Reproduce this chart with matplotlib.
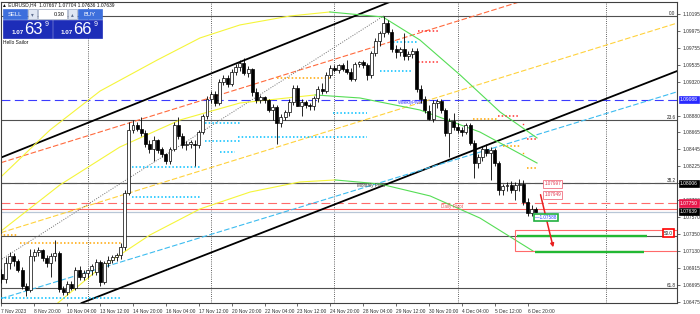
import numpy as np
import matplotlib.pyplot as plt
import matplotlib.patches as mpatches
from matplotlib.transforms import blended_transform_factory

plt.rcParams['font.family'] = ['Liberation Sans', 'DejaVu Sans']

# ---------------------------------------------------------------------------
# EURUSD H4 candles (bar index 0 = 7 Nov 2023)
# ---------------------------------------------------------------------------
opens = [1.0683, 1.0677, 1.0697, 1.0706, 1.0700, 1.0688, 1.0668, 1.0662, 1.0707, 1.0712,
         1.0714, 1.0704, 1.0697, 1.0706, 1.0711, 1.0664, 1.0660, 1.0670, 1.0665, 1.0688,
         1.0680, 1.0685, 1.0688, 1.0686, 1.0699, 1.0673, 1.0697, 1.0702, 1.0705, 1.0708,
         1.0718, 1.0788, 1.0870, 1.0876, 1.0871, 1.0866, 1.0851, 1.0845, 1.0856, 1.0845,
         1.0838, 1.0830, 1.0845, 1.0876, 1.0862, 1.0850, 1.0852, 1.0852, 1.0850, 1.0867,
         1.0887, 1.0910, 1.0916, 1.0905, 1.0932, 1.0937, 1.0929, 1.0945, 1.0951, 1.0956,
         1.0943, 1.0948, 1.0918, 1.0908, 1.0912, 1.0908, 1.0896, 1.0899, 1.0879, 1.0886,
         1.0893, 1.0906, 1.0924, 1.0900, 1.0906, 1.0902, 1.0900, 1.0911, 1.0923, 1.0920,
         1.0941, 1.0950, 1.0947, 1.0953, 1.0949, 1.0945, 1.0936, 1.0955, 1.0957, 1.0953,
         1.0940, 1.0969, 1.0985, 1.0995, 1.1008, 1.0996, 1.0974, 1.0970, 1.0974, 1.0965,
         1.0968, 1.0972, 1.0922, 1.0910, 1.0894, 1.0884, 1.0905, 1.0907, 1.0895, 1.0866,
         1.0881, 1.0874, 1.0870, 1.0867, 1.0876, 1.0853, 1.0827, 1.0834, 1.0845, 1.0840,
         1.0844, 1.0827, 1.0792, 1.0797, 1.0799, 1.0792, 1.0798, 1.0800, 1.0776, 1.0762,
         1.07667]
highs = [1.0690, 1.0705, 1.0712, 1.0710, 1.0703, 1.0692, 1.0672, 1.0715, 1.0716, 1.0718,
         1.0716, 1.0708, 1.0710, 1.0727, 1.0713, 1.0668, 1.0674, 1.0674, 1.0692, 1.0693,
         1.0688, 1.0690, 1.0696, 1.0703, 1.0702, 1.0700, 1.0706, 1.0708, 1.0711, 1.0724,
         1.0792, 1.0880, 1.0882, 1.0880, 1.0886, 1.0870, 1.0856, 1.0862, 1.0858, 1.0848,
         1.0840, 1.0848, 1.0880, 1.0886, 1.0865, 1.0855, 1.0857, 1.0856, 1.0870, 1.0890,
         1.0913, 1.0920, 1.0920, 1.0935, 1.0940, 1.0940, 1.0948, 1.0955, 1.0960, 1.0962,
         1.0952, 1.0950, 1.0924, 1.0915, 1.0914, 1.0910, 1.0903, 1.0902, 1.0890, 1.0896,
         1.0910, 1.0928, 1.0928, 1.0910, 1.0908, 1.0905, 1.0914, 1.0926, 1.0930, 1.0944,
         1.0953, 1.0954, 1.0955, 1.0956, 1.0960, 1.0950, 1.0958, 1.0959, 1.0960, 1.0956,
         1.0972, 1.0988, 1.0998, 1.1017, 1.1012, 1.1000, 1.0980, 1.0977, 1.0995, 1.0972,
         1.0975, 1.0976, 1.0928, 1.0914, 1.0902, 1.0908, 1.0910, 1.0910, 1.0898, 1.0885,
         1.0892, 1.0878, 1.0874, 1.0878, 1.0879, 1.0856, 1.0838, 1.0849, 1.0852, 1.0847,
         1.0846, 1.0830, 1.0800, 1.0802, 1.0804, 1.0802, 1.0806, 1.0805, 1.0782, 1.0772,
         1.07704]
lows = [1.0672, 1.0672, 1.0690, 1.0694, 1.0686, 1.0664, 1.0655, 1.0660, 1.0700, 1.0706,
        1.0700, 1.0692, 1.0680, 1.0700, 1.0660, 1.0656, 1.0656, 1.0662, 1.0662, 1.0676,
        1.0675, 1.0678, 1.0682, 1.0682, 1.0668, 1.0670, 1.0692, 1.0697, 1.0700, 1.0703,
        1.0714, 1.0785, 1.0866, 1.0868, 1.0862, 1.0848, 1.0840, 1.0830, 1.0840, 1.0834,
        1.0826, 1.0826, 1.0842, 1.0858, 1.0846, 1.0844, 1.0846, 1.0823, 1.0846, 1.0864,
        1.0884, 1.0905, 1.0900, 1.0902, 1.0928, 1.0925, 1.0926, 1.0940, 1.0946, 1.0940,
        1.0938, 1.0914, 1.0905, 1.0904, 1.0904, 1.0893, 1.0882, 1.0852, 1.0873, 1.0882,
        1.0888, 1.0902, 1.0900, 1.0887, 1.0898, 1.0896, 1.0896, 1.0906, 1.0916, 1.0917,
        1.0937, 1.0944, 1.0943, 1.0946, 1.0942, 1.0933, 1.0933, 1.0951, 1.0950, 1.0934,
        1.0937, 1.0965, 1.0978, 1.0990, 1.0993, 1.0970, 1.0962, 1.0965, 1.0960, 1.0960,
        1.0962, 1.0918, 1.0905, 1.0892, 1.0882, 1.0880, 1.0898, 1.0892, 1.0862, 1.0835,
        1.0870, 1.0866, 1.0862, 1.0864, 1.0850, 1.0808, 1.0820, 1.0830, 1.0836, 1.0805,
        1.0823, 1.0786, 1.0786, 1.0790, 1.0788, 1.0779, 1.0790, 1.0772, 1.0758, 1.0758,
        1.07636]
closes = [1.0677, 1.0697, 1.0706, 1.0700, 1.0688, 1.0668, 1.0662, 1.0707, 1.0712, 1.0714,
          1.0704, 1.0697, 1.0706, 1.0711, 1.0664, 1.0660, 1.0670, 1.0665, 1.0688, 1.0680,
          1.0685, 1.0688, 1.0693, 1.0699, 1.0673, 1.0697, 1.0702, 1.0705, 1.0708, 1.0718,
          1.0788, 1.0870, 1.0876, 1.0871, 1.0866, 1.0851, 1.0845, 1.0856, 1.0843, 1.0838,
          1.0830, 1.0845, 1.0876, 1.0862, 1.0850, 1.0852, 1.0854, 1.0850, 1.0867, 1.0887,
          1.0910, 1.0916, 1.0905, 1.0932, 1.0937, 1.0929, 1.0945, 1.0951, 1.0956, 1.0943,
          1.0948, 1.0918, 1.0908, 1.0912, 1.0908, 1.0896, 1.0899, 1.0879, 1.0886, 1.0893,
          1.0906, 1.0924, 1.0901, 1.0906, 1.0902, 1.0900, 1.0911, 1.0923, 1.0920, 1.0941,
          1.0950, 1.0947, 1.0953, 1.0949, 1.0945, 1.0936, 1.0955, 1.0957, 1.0953, 1.0940,
          1.0969, 1.0985, 1.0995, 1.1008, 1.0996, 1.0974, 1.0970, 1.0974, 1.0965, 1.0968,
          1.0972, 1.0922, 1.0910, 1.0896, 1.0884, 1.0905, 1.0907, 1.0895, 1.0866, 1.0881,
          1.0874, 1.0870, 1.0867, 1.0876, 1.0853, 1.0827, 1.0834, 1.0845, 1.0840, 1.0844,
          1.0827, 1.0792, 1.0797, 1.0799, 1.0792, 1.0798, 1.0800, 1.0776, 1.0762, 1.0767,
          1.07639]

time_tick_bars = list(range(0, 129, 8))
time_tick_labels = ['7 Nov 2023', '8 Nov 20:00', '10 Nov 04:00', '13 Nov 12:00', '14 Nov 20:00',
                    '16 Nov 04:00', '17 Nov 12:00', '20 Nov 20:00', '22 Nov 04:00', '23 Nov 12:00',
                    '24 Nov 20:00', '28 Nov 04:00', '29 Nov 12:00', '30 Nov 20:00', '4 Dec 04:00',
                    '5 Dec 12:00', '6 Dec 20:00']
price_ticks = [1.10195, 1.09975, 1.09755, 1.09535, 1.09320, 1.08880, 1.08665, 1.08445, 1.08225,
               1.08005, 1.07790, 1.07570, 1.07350, 1.07130, 1.06915, 1.06695, 1.06475]
week_separators = [21, 51, 81, 111, 147]

# fibonacci retracement levels (price, label)
fib_prices = [1.10169, 1.08824, 1.08010, 1.07325, 1.06652]
fib_labels = ['0.0', '23.6', '38.2', '50.0', '61.8']

weekly_pivot = 1.09088
monthly_pivot = 1.08006
daily_pivot = 1.07750
bid = 1.07639
ask = 1.07669

# trend objects: two anchor points (bar, price)
channel_upper = [(0, 1.08341), (90, 1.10255)]
channel_lower = [(27.6, 1.06626), (146.3, 1.09083)]
regr_top = [(-0.4, 1.08268), (101.8, 1.09952)]
regr_mid = [(-0.4, 1.07363), (145.6, 1.09768)]
regr_low = [(-0.4, 1.06510), (164.4, 1.09189)]
fib_base = [(-0.4, 1.07010), (93, 1.10170)]

# curved indicator lines (bar, price), rising part and falling part
arc_top_up = [(-0.4, 1.08075), (11.8, 1.08695), (24.0, 1.09199), (37.9, 1.09600),
              (48.3, 1.09885), (58.0, 1.10053), (70.2, 1.10169), (79.9, 1.10221)]
arc_top_dn = [(79.9, 1.10221), (92.8, 1.10156), (101.8, 1.09859), (111.6, 1.09406),
              (121.3, 1.08928), (130.3, 1.08592)]
arc_mid_up = [(-0.4, 1.07376), (14.2, 1.07984), (28.8, 1.08475), (43.4, 1.08824),
              (58.0, 1.09044), (76.3, 1.09148)]
arc_mid_dn = [(76.3, 1.09148), (87.2, 1.09109), (101.8, 1.08954), (116.4, 1.08669),
              (130.3, 1.08268)]
arc_low_up = [(13.7, 1.06458), (24.0, 1.06911), (36.1, 1.07337), (48.3, 1.07674),
              (60.5, 1.07893), (72.6, 1.08023), (81.2, 1.08049)]
arc_low_dn = [(81.2, 1.08049), (92.1, 1.07997), (104.3, 1.07842), (116.4, 1.07557),
              (129.3, 1.07131)]

# dotted support / resistance markers: (first bar, last bar, price, colour)
dot_levels = [
    (-0.4, 4.0, 1.07338, '#ffa500'), (4.5, 29.3, 1.07234, '#ffa500'),
    (0, 29.3, 1.06523, '#00bfff'), (31.8, 48.3, 1.08217, '#00bfff'),
    (31.8, 48.3, 1.07829, '#00bfff'), (49.5, 58.0, 1.08786, '#00bfff'),
    (49.5, 58.0, 1.08553, '#00bfff'), (53.2, 56.8, 1.08411, '#00bfff'),
    (57.5, 88.9, 1.08605, '#00bfff'), (80.7, 88.9, 1.08915, '#00bfff'),
    (92.1, 100.1, 1.09458, '#00bfff'), (67.0, 79.9, 1.09368, '#ffa500'),
    (95.3, 101.3, 1.09833, '#00bfff'), (101.3, 106.7, 1.09975, '#ff3030'),
    (101.3, 106.7, 1.09574, '#ff3030'), (114.7, 120.6, 1.08837, '#ffa500'),
    (120.8, 125.7, 1.08876, '#ff3030'), (126.9, 126.9, 1.08773, '#ff3030'),
    (127.9, 130.3, 1.08579, '#ff3030'), (122.0, 126.2, 1.08488, '#ffa500'),
    (126.9, 126.9, 1.08398, '#ffa500'), (127.9, 130.3, 1.08204, '#ffa500'),
]

# trade plan objects
target_box = (124.9, 164.4, 1.07131, 1.07402)
target_lines = [(125.4, 157.1, 1.07325), (129.8, 156.3, 1.07118)]
arrow_from = (131.0, 1.07893)
arrow_to = (134.4, 1.07143)

W, H = 700, 314
fig = plt.figure(figsize=(W / 100, H / 100), dpi=100)
fig.patch.set_facecolor('white')
ax = fig.add_axes([1 / W, 11 / H, 676 / W, 301 / H])
ax.set_xlim(-0.12, 164.36)
ax.set_ylim(1.06458, 1.10350)
ax.set_facecolor('white')
for s in ax.spines.values():
    s.set_color('#404040')
    s.set_linewidth(0.8)

# grid-like objects
for b in week_separators:
    ax.axvline(b, color='#303030', ls=(0, (1, 1.6)), lw=0.6, zorder=1)
for p in fib_prices:
    ax.axhline(p, color='#505050', lw=0.8, zorder=1)
for p, lab in zip(fib_prices, fib_labels):
    if lab == '50.0':
        continue
    ax.text(164.0, p, lab, ha='right', va='bottom', fontsize=3.3, color='#202020')

ax.axhline(weekly_pivot, color='#3b3bff', ls=(0, (8, 4)), lw=0.8, zorder=1)
ax.axhline(monthly_pivot, color='#555555', ls=(0, (8, 4)), lw=0.8, zorder=1)
ax.axhline(daily_pivot, color='#ff6b6b', ls=(0, (8, 4)), lw=0.8, zorder=1)
ax.axhline(ask, color='#ff6060', lw=0.8, zorder=1)
ax.axhline(bid, color='#b8c6d6', lw=0.9, zorder=1)

ax.text(96.5, weekly_pivot - 0.0001, 'WeeklyPivot', fontsize=3.3, color='#3b3bff', va='top')
ax.text(86.4, 1.07973, 'Monthly Pivot', fontsize=3.3, color='#404040', va='center')
ax.text(107.0, 1.07700, 'Daily Pivot', fontsize=3.3, color='#e05a5a', va='center')

# channels and regression lines
ax.axline(*channel_upper, color='black', lw=1.3, zorder=2)
ax.axline(*channel_lower, color='black', lw=1.3, zorder=2)
ax.axline(*regr_top, color='#ff6a3d', ls=(0, (5, 2)), lw=0.8, zorder=2)
ax.axline(*regr_mid, color='#ffd23c', ls=(0, (5, 2)), lw=0.8, zorder=2)
ax.axline(*regr_low, color='#3cbcf0', ls=(0, (5, 2)), lw=0.8, zorder=2)
fx, fy = zip(*fib_base)
ax.plot(fx, fy, color='#707070', ls=(0, (1, 1.5)), lw=0.7, zorder=2)

for pts, col in [(arc_top_up, '#f5f53a'), (arc_top_dn, '#55dd55'),
                 (arc_mid_up, '#f5f53a'), (arc_mid_dn, '#55dd55'),
                 (arc_low_up, '#f5f53a'), (arc_low_dn, '#55dd55')]:
    xs, ys = zip(*pts)
    ax.plot(xs, ys, color=col, lw=0.8, zorder=2)

for b0, b1, p, col in dot_levels:
    if b0 == b1:
        ax.plot([b0], [p], ls='none', marker='s', ms=1.0, color=col, mew=0, zorder=3)
    else:
        ax.plot([b0, b1], [p, p], color=col, ls=(0, (1, 1.4)), lw=1.1, zorder=3)

# candles
idx = np.arange(len(closes))
o, hh, ll, c = map(np.array, (opens, highs, lows, closes))
ax.vlines(idx, ll, hh, color='black', lw=0.6, zorder=4)
up = c >= o
lo = np.minimum(o, c)
bh = np.maximum(np.abs(c - o), 0.00005)
ax.bar(idx[up], bh[up], bottom=lo[up], width=0.72, color='white', edgecolor='black', lw=0.5, zorder=5)
ax.bar(idx[~up], bh[~up], bottom=lo[~up], width=0.72, color='black', edgecolor='black', lw=0.5, zorder=5)

# trade plan
bx0, bx1, by0, by1 = target_box
ax.add_patch(mpatches.Rectangle((bx0, by0), bx1 - bx0, by1 - by0, fill=False,
                                ec='#ff6a6a', lw=0.8, zorder=6))
for x0, x1, p in target_lines:
    ax.hlines(p, x0, x1, color='#22b833', lw=1.7, zorder=6)
ax.annotate('', xy=arrow_to, xytext=arrow_from,
            arrowprops=dict(arrowstyle='-|>', color='#e82020', lw=1.1, mutation_scale=5), zorder=7)
ax.text(134.1, 1.07997, '1.07997', fontsize=3.3, color='#e0304a', ha='center', va='center', zorder=7,
        bbox=dict(boxstyle='square,pad=0.25', fc='white', ec='#f07080', lw=0.6))
ax.text(134.1, 1.07855, '1.07949', fontsize=3.3, color='#e0304a', ha='center', va='center', zorder=7,
        bbox=dict(boxstyle='square,pad=0.25', fc='white', ec='#f07080', lw=0.6))
ax.text(132.4, 1.07564, '—1.07588', fontsize=3.3, color='#2040ff', ha='center', va='center', zorder=7,
        bbox=dict(boxstyle='square,pad=0.3', fc='white', ec='#20b040', lw=1.2))
ax.text(162.3, 1.07363, '50.0', fontsize=3.3, color='#202020', ha='center', va='center', zorder=7,
        bbox=dict(boxstyle='square,pad=0.3', fc='white', ec='#ff0000', lw=1.2))

# axes ticks
ax.yaxis.tick_right()
ax.set_yticks(price_ticks)
ax.set_yticklabels([f'{v:.5f}' for v in price_ticks])
ax.tick_params(axis='y', labelsize=3.5, length=2.5, width=0.5, pad=1.5, colors='#303030')
ax.set_xticks(time_tick_bars)
ax.set_xticklabels(time_tick_labels, ha='left')
ax.tick_params(axis='x', labelsize=3.5, length=2.5, width=0.5, pad=1.5, colors='#303030')

trans = blended_transform_factory(ax.transAxes, ax.transData)
for p, txt, bg in [(weekly_pivot, '1.09088', '#2a2aff'), (monthly_pivot, '1.08006', '#000000'),
                   (daily_pivot, '1.07750', '#e8174a'), (bid, '1.07639', '#000000')]:
    ax.text(1.0045, p, txt, transform=trans, fontsize=3.5, color='white', ha='left', va='center',
            zorder=8, clip_on=False,
            bbox=dict(boxstyle='square,pad=0.25', fc=bg, ec=bg, lw=0.5))

# header and one-click trading panel (pixel layout)
def fpos(x, y):
    return x / W, 1 - y / H

fig.text(*fpos(2, 5), '▲ EURUSD,H4  1.07667 1.07704 1.07636 1.07639', fontsize=3.5,
         va='center', color='#101010')
fig.text(*fpos(3, 43), 'Hello Sailor', fontsize=3.5, va='center', color='#101010')

def rect(x0, y0, x1, y1, fc, ec=None, lw=0.5):
    fx0, fy1 = fpos(x0, y1)
    fig.add_artist(mpatches.Rectangle((fx0, fy1), (x1 - x0) / W, (y1 - y0) / H,
                                      transform=fig.transFigure, fc=fc, ec=ec or fc, lw=lw, zorder=10))

rect(3, 9, 27, 19, '#3d6fdc')
rect(28, 9, 37, 19, '#dfe6f3', '#9aa6c0')
rect(38, 9, 67, 19, 'white', '#9aa6c0')
rect(68, 9, 77, 19, '#dfe6f3', '#9aa6c0')
rect(78, 9, 102, 19, '#3d6fdc')
rect(3, 20, 52, 38, '#1d2db8')
rect(53, 20, 102, 38, '#1d2db8')

tkw = dict(color='white', zorder=11, va='center')
fig.text(*fpos(15, 14.5), 'SELL', fontsize=4.2, ha='center', **tkw)
fig.text(*fpos(90, 14.5), 'BUY', fontsize=4.2, ha='center', **tkw)
fig.text(*fpos(32.5, 14.5), '▾', fontsize=4, ha='center', color='#607090', zorder=11, va='center')
fig.text(*fpos(72.5, 14.5), '▴', fontsize=4, ha='center', color='#607090', zorder=11, va='center')
fig.text(*fpos(65, 14.5), '0.30', fontsize=4, ha='right', color='#101010', zorder=11, va='center')
for x_small, x_big, big, x_sup in [(12, 24, '63', 45), (61, 73, '66', 94)]:
    fig.text(*fpos(x_small, 32), '1.07', fontsize=4.5, ha='left', fontweight='bold', **tkw)
    fig.text(*fpos(x_big, 29), big, fontsize=12, ha='left', **tkw)
    fig.text(*fpos(x_sup, 24), '9', fontsize=5, ha='left', **tkw)

fig.savefig('out.png', dpi=100, facecolor='white')
